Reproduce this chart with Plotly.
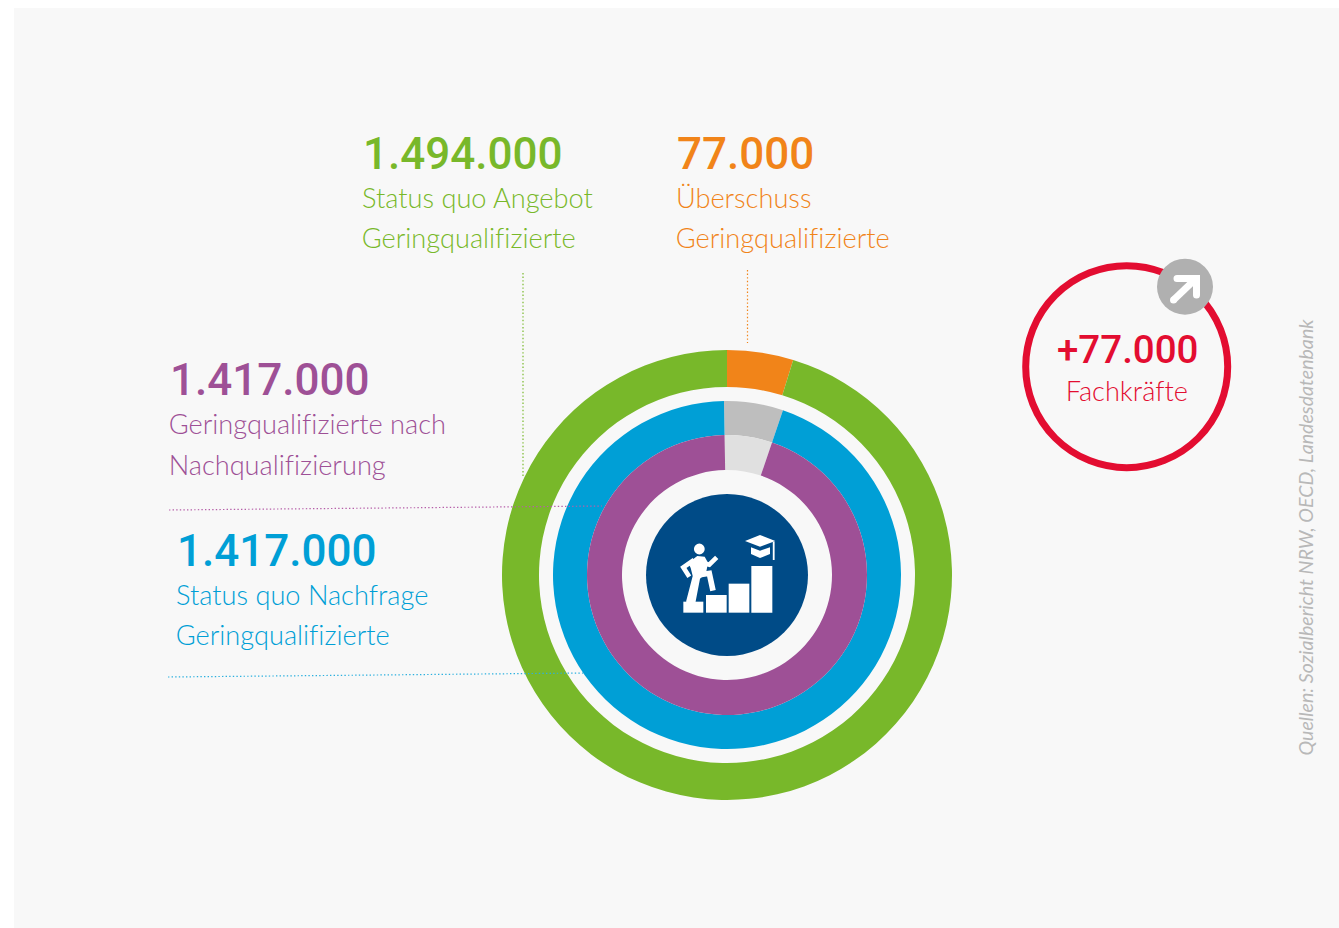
import plotly.graph_objects as go

W, H = 1339, 928

# ---- data -------------------------------------------------------------
# ring arcs, in thousands on a 1.494 full circle
outer_ring_values = [71, 1423]
middle_ring_values = [82, 1412]
inner_ring_values = [82, 1412]
outer_ring_colors = ["#F18419", "#78B82A"]
middle_ring_colors = ["#BEBEBE", "#009FD6"]
inner_ring_colors = ["#E0E0E0", "#9E5096"]
ring_labels_outer = ["Überschuss", "Status quo Angebot"]
ring_labels_middle = ["Differenz", "Status quo Nachfrage"]
ring_labels_inner = ["Differenz", "Geringqualifizierte nach Nachqualifizierung"]

big_numbers = ["1.494.000", "77.000", "1.417.000", "1.417.000", "+77.000"]
line_one = ["Status quo Angebot", "Überschuss", "Geringqualifizierte nach", "Status quo Nachfrage", "Fachkräfte"]
line_two = ["Geringqualifizierte", "Geringqualifizierte", "Nachqualifizierung", "Geringqualifizierte", ""]
text_colors = ["#78B82A", "#F18419", "#9E5096", "#009FD6", "#E30D31"]
source_text = "Quellen: Sozialbericht NRW, OECD, Landesdatenbank"

# ---- layout helpers ----------------------------------------------------
CX, CY = 727, 575
BG = "#F8F8F8"
NUM_FONT = "Roboto"
LBL_FONT = "Lato"


def ring(values, colors, labels, r_out, r_in, rotation):
    return go.Pie(
        values=values, labels=labels, sort=False, direction="clockwise",
        rotation=rotation, hole=r_in / r_out, textinfo="none", hoverinfo="label",
        marker=dict(colors=colors, line=dict(width=0)), showlegend=False,
        domain=dict(x=[(CX - r_out) / W, (CX + r_out) / W],
                    y=[1 - (CY + r_out) / H, 1 - (CY - r_out) / H]),
    )


fig = go.Figure()
fig.add_trace(go.Scatter(x=[0, W], y=[0, H], mode="none", showlegend=False, hoverinfo="skip"))
fig.add_trace(ring(outer_ring_values, outer_ring_colors, ring_labels_outer, 225, 188, 0))
fig.add_trace(ring(middle_ring_values, middle_ring_colors, ring_labels_middle, 174, 140, -1))
fig.add_trace(ring(inner_ring_values, inner_ring_colors, ring_labels_inner, 140, 105, -1))

shapes = []


def rect(x0, y0, x1, y1, color, layer="above"):
    shapes.append(dict(type="rect", x0=x0, y0=y0, x1=x1, y1=y1, fillcolor=color,
                       line=dict(width=0), layer=layer))


def circle(cx, cy, r, fill, line_color=None, line_width=0, layer="above"):
    shapes.append(dict(type="circle", x0=cx - r, y0=cy - r, x1=cx + r, y1=cy + r,
                       fillcolor=fill, layer=layer,
                       line=dict(width=line_width, color=line_color or fill)))


def dotted(x0, y0, x1, y1, color):
    shapes.append(dict(type="line", x0=x0, y0=y0, x1=x1, y1=y1, layer="above",
                       line=dict(color=color, width=1.2, dash="1.4px,2.2px")))


def stroke(points, color="white", width=3.5):
    d = "M" + " L".join(f"{x:.1f},{y:.1f}" for x, y in points)
    shapes.append(dict(type="path", path=d, layer="above", fillcolor="rgba(0,0,0,0)",
                       line=dict(color=color, width=width)))


def poly(points, color="white"):
    d = "M" + " L".join(f"{x:.1f},{y:.1f}" for x, y in points) + " Z"
    shapes.append(dict(type="path", path=d, layer="above", fillcolor=color, line=dict(width=0)))


rect(14, 8, W, 928, BG, layer="below")

# leader lines
dotted(523, 273, 523, 478, "#78B82A")
dotted(747.5, 270, 747.5, 343, "#F18419")
dotted(169, 510, 602, 506, "#B65FA9")
dotted(168, 677, 585, 673, "#2DB0DE")

# centre badge and pictogram
circle(CX, CY, 81, "#004B87")


def z(X, Y):
    return 620 + X / 3, 340 + Y / 3


for X0, X1, Y0 in [(190, 250, 785), (258, 320, 765), (326, 388, 731), (394, 457, 678)]:
    a, b = z(X0, Y0), z(X1, 818)
    rect(a[0], a[1], b[0], b[1], "white")
circle(*z(238, 627), 5.4, "white")
poly([z(*p) for p in [(205, 668), (232, 648), (254, 650), (264, 668), (258, 700), (240, 716), (226, 790), (198, 785), (218, 708), (212, 684)]])
stroke([z(*p) for p in [(222, 660), (190, 682), (208, 710)]], width=4.6)
stroke([z(*p) for p in [(245, 668), (268, 674), (290, 652)]], width=4.6)
stroke([z(*p) for p in [(240, 704), (268, 700), (279, 752)]], width=5.6)
poly([z(*p) for p in [(375, 603), (420, 585), (466, 603), (420, 620)]])
poly([z(*p) for p in [(393, 622), (420, 632), (450, 622), (450, 642), (420, 654), (393, 642)]])
stroke([z(461, 605), z(461, 660)], width=1.8)

# red badge
circle(1126.7, 366.7, 101, BG, "#E30D31", 7)
circle(1185, 286.7, 28, "#B0B0B0")
stroke([(1173.5, 300), (1195.5, 279)], width=7)
stroke([(1177, 278.5), (1196.5, 278.5), (1196.5, 295)], width=7)
circle(1173.5, 300, 3.5, "white")
circle(1177, 278.5, 3.5, "white")
circle(1196.5, 295, 3.5, "white")

fig.update_layout(shapes=shapes)

# ---- text ---------------------------------------------------------------
anchors = [
    (363, 154, 197, 237),
    (676.5, 154, 197, 237),
    (170, 380, 423, 464),
    (177, 551, 594, 634),
]


def note(text, x, y, color, family, size, weight=400, xanchor="left", **kw):
    fig.add_annotation(text=text, x=x, y=y, xref="x", yref="y", showarrow=False,
                       xanchor=xanchor, yanchor="middle",
                       font=dict(family=family, size=size, color=color, weight=weight), **kw)


for i, (x, y0, y1, y2) in enumerate(anchors):
    note(big_numbers[i], x - 2, y0, text_colors[i], NUM_FONT, 44, 500)
    note(line_one[i], x - 3, y1, text_colors[i], LBL_FONT, 27.2, 300)
    note(line_two[i], x - 3, y2, text_colors[i], LBL_FONT, 27.2, 300)

note(big_numbers[4], 1127.5, 349, text_colors[4], NUM_FONT, 38.5, 500, xanchor="center")
note(line_one[4], 1127, 390, text_colors[4], LBL_FONT, 27.2, 300, xanchor="center")

fig.add_annotation(text=source_text, x=1305, y=537.5, xref="x", yref="y", showarrow=False,
                   textangle=-90, xanchor="center", yanchor="middle",
                   font=dict(family=LBL_FONT, size=19.6, color="#B8B8B8", style="italic", weight=400))

fig.update_layout(
    width=W, height=H, margin=dict(l=0, r=0, t=0, b=0), autosize=False,
    paper_bgcolor="white", plot_bgcolor="rgba(0,0,0,0)",
    xaxis=dict(range=[0, W], visible=False, fixedrange=True),
    yaxis=dict(range=[H, 0], visible=False, fixedrange=True),
)

fig.write_html("out.html", config=dict(displayModeBar=False),
               post_script=("document.body.style.margin='0';document.body.style.overflow='hidden';"
                            "var s=document.createElement('style');"
                            "s.textContent='text{font-variant-ligatures:none !important;"
                            "font-feature-settings:\"liga\" 0 !important}';"
                            "document.head.appendChild(s);"))
